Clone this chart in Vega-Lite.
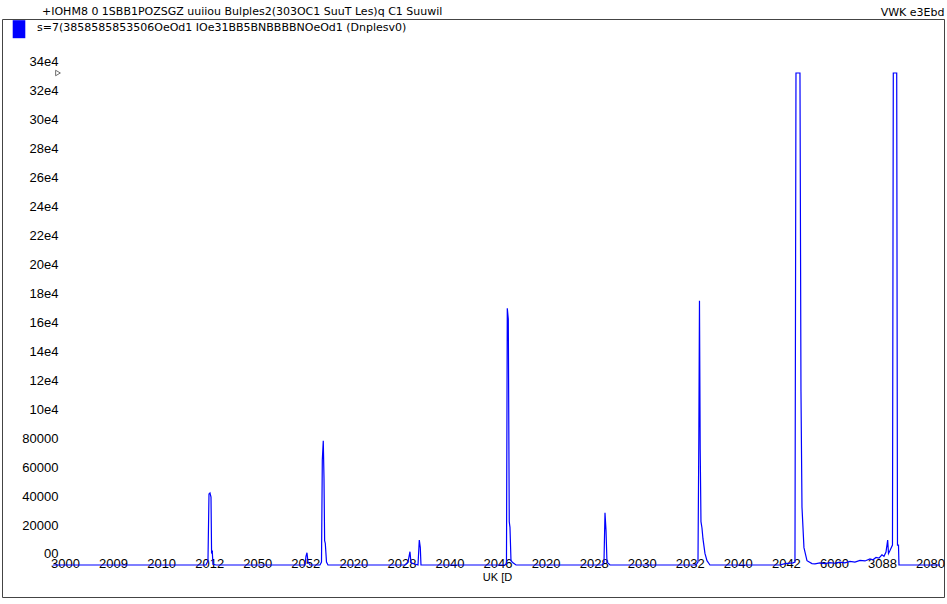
{
  "$schema": "https://vega.github.io/schema/vega-lite/v6.json",
  "width": 942,
  "height": 578,
  "autosize": {"type": "none"},
  "padding": {"left": 2, "top": 19, "right": 3, "bottom": 7},
  "background": "white",
  "config": {"font": "Liberation Sans", "view": {"stroke": "#444", "strokeWidth": 1}, "axis": {"labelOverlap": false}},
  "title": {"text": "+IOHM8 0 1SBB1POZSGZ uuiiou Bulples2(303OC1 SuuT Les)q C1 Suuwil", "anchor": "start", "frame": "group", "dx": 40, "offset": -11, "fontSize": 11, "font": "DejaVu Sans", "fontWeight": "normal", "color": "black"},
  "datasets": {
    "trace": [
      {"t": 2.750, "v": 0}, {"t": 4.769, "v": 0}, {"t": 5.934, "v": 0}, {"t": 5.975, "v": 3000},
      {"t": 5.996, "v": 49000}, {"t": 6.017, "v": 49800}, {"t": 6.038, "v": 47000}, {"t": 6.050, "v": 8000},
      {"t": 6.065, "v": 9000}, {"t": 6.079, "v": 500}, {"t": 6.142, "v": 0}, {"t": 7.682, "v": 0},
      {"t": 7.994, "v": 0}, {"t": 8.014, "v": 6000}, {"t": 8.035, "v": 8500}, {"t": 8.056, "v": 2000},
      {"t": 8.098, "v": 0}, {"t": 8.306, "v": 0}, {"t": 8.337, "v": 2000}, {"t": 8.354, "v": 72600},
      {"t": 8.374, "v": 85900}, {"t": 8.389, "v": 60000}, {"t": 8.402, "v": 16800}, {"t": 8.416, "v": 15000},
      {"t": 8.441, "v": 2000}, {"t": 8.472, "v": 0}, {"t": 10.074, "v": 0}, {"t": 10.137, "v": 2000},
      {"t": 10.178, "v": 9200}, {"t": 10.199, "v": 1500}, {"t": 10.345, "v": 0}, {"t": 10.372, "v": 17300},
      {"t": 10.393, "v": 12000}, {"t": 10.407, "v": 0}, {"t": 12.155, "v": 0}, {"t": 12.186, "v": 1000},
      {"t": 12.203, "v": 177400}, {"t": 12.224, "v": 170000}, {"t": 12.244, "v": 29900}, {"t": 12.259, "v": 26000},
      {"t": 12.280, "v": 3000}, {"t": 12.322, "v": 1500}, {"t": 12.384, "v": 0}, {"t": 14.173, "v": 0},
      {"t": 14.215, "v": 2000}, {"t": 14.236, "v": 36100}, {"t": 14.257, "v": 24200}, {"t": 14.277, "v": 2000},
      {"t": 14.340, "v": 0}, {"t": 16.129, "v": 0}, {"t": 16.171, "v": 2000}, {"t": 16.188, "v": 86400},
      {"t": 16.202, "v": 182600}, {"t": 16.217, "v": 80000}, {"t": 16.233, "v": 30000}, {"t": 16.254, "v": 25600},
      {"t": 16.275, "v": 18000}, {"t": 16.316, "v": 8000}, {"t": 16.358, "v": 3000}, {"t": 16.420, "v": 0},
      {"t": 17.877, "v": 0}, {"t": 17.981, "v": 1000}, {"t": 18.148, "v": 1500}, {"t": 18.189, "v": 2000},
      {"t": 18.210, "v": 340000}, {"t": 18.293, "v": 340000}, {"t": 18.314, "v": 120000}, {"t": 18.335, "v": 40000},
      {"t": 18.376, "v": 12000}, {"t": 18.439, "v": 3000}, {"t": 18.543, "v": 1000}, {"t": 18.605, "v": 800},
      {"t": 18.709, "v": 1400}, {"t": 18.813, "v": 900}, {"t": 18.917, "v": 1600}, {"t": 19.021, "v": 1200},
      {"t": 19.125, "v": 2000}, {"t": 19.229, "v": 1500}, {"t": 19.333, "v": 2500}, {"t": 19.437, "v": 2000},
      {"t": 19.542, "v": 3200}, {"t": 19.646, "v": 2800}, {"t": 19.750, "v": 4200}, {"t": 19.812, "v": 3600},
      {"t": 19.875, "v": 5200}, {"t": 19.937, "v": 4800}, {"t": 19.999, "v": 7000}, {"t": 20.041, "v": 6000},
      {"t": 20.083, "v": 9000}, {"t": 20.118, "v": 17300}, {"t": 20.135, "v": 8000}, {"t": 20.166, "v": 10000},
      {"t": 20.218, "v": 13800}, {"t": 20.235, "v": 340000}, {"t": 20.306, "v": 340000}, {"t": 20.322, "v": 13800},
      {"t": 20.343, "v": 13800}, {"t": 20.353, "v": 0}, {"t": 21.206, "v": 0}
    ],
    "marker": [{"t": 2.854, "v": 340000}]
  },
  "layer": [
    {
      "data": {"name": "trace"},
      "mark": {"type": "line", "strokeWidth": 1.2, "clip": true},
      "encoding": {
        "x": {
          "field": "t", "type": "quantitative",
          "scale": {"domain": [1.689, 21.29], "nice": false, "zero": false},
          "axis": {
            "orient": "bottom", "offset": -32,
            "values": [3, 4, 5, 6, 7, 8, 9, 10, 11, 12, 13, 14, 15, 16, 17, 18, 19, 20, 21],
            "labelExpr": "['3000','2009','2010','2012','2050','2052','2020','2028','2040','2046','2020','2028','2030','2032','2040','2042','6060','3088','2080'][datum.value - 3]",
            "domain": false, "ticks": false, "grid": false,
            "labelBaseline": "middle", "labelPadding": -2, "labelFontSize": 13, "labelColor": "black",
            "labelFlush": false, "labelOverlap": false,
            "title": "UK [D", "titleFontSize": 11, "titleFontWeight": "normal", "titleColor": "black",
            "titlePadding": 1, "titleX": 495
          }
        },
        "y": {
          "field": "v", "type": "quantitative",
          "scale": {"domain": [-22114, 377317], "nice": false, "zero": false},
          "axis": {
            "values": [0, 20000, 40000, 60000, 80000, 100000, 120000, 140000, 160000, 180000, 200000, 220000, 240000, 260000, 280000, 300000, 320000, 340000],
            "labelExpr": "datum.value == 0 ? '00' : datum.value < 100000 ? format(datum.value, 'd') : format(datum.value / 10000, 'd') + 'e4'",
            "offset": -60, "domain": false, "ticks": false, "grid": false,
            "labelPadding": 4, "labelOffset": -11, "labelFontSize": 13, "labelColor": "black",
            "labelOverlap": false, "labelFlush": false, "labelBound": false, "title": null
          }
        },
        "color": {
          "datum": "s=7(3858585853506OeOd1 IOe31BB5BNBBBBNOeOd1 (Dnplesv0)", "type": "nominal",
          "scale": {"range": ["#0000ff"]},
          "legend": {
            "orient": "none", "legendX": 8, "legendY": 3, "title": null, "padding": 0,
            "symbolType": "M-0.7,-1.2H0.7V0.8H-0.7Z", "symbolSize": 324, "symbolFillColor": "#0000ff",
            "symbolStrokeWidth": 0, "labelFontSize": 11, "labelFont": "DejaVu Sans", "labelLimit": 0, "labelOffset": 9,
            "labelBaseline": "alphabetic", "labelColor": "black"
          }
        }
      }
    },
    {
      "data": {"name": "marker"},
      "mark": {"type": "point", "shape": "triangle-right", "filled": false, "size": 30, "stroke": "black", "strokeWidth": 0.8},
      "encoding": {
        "x": {
          "field": "t", "type": "quantitative",
          "scale": {"domain": [1.689, 21.29], "nice": false, "zero": false},
          "axis": {"orient": "top", "domain": false, "ticks": false, "labels": false, "grid": false,
                   "title": "VWK e3Ebd", "titleAnchor": "end", "titleFontSize": 11, "titleFont": "DejaVu Sans", "titleFontWeight": "normal",
                   "titleColor": "black", "titlePadding": 2}
        },
        "y": {"field": "v", "type": "quantitative", "scale": {"domain": [-22114, 377317], "nice": false, "zero": false}, "axis": null}
      }
    }
  ],
  "resolve": {"axis": {"x": "independent", "y": "independent"}}
}
